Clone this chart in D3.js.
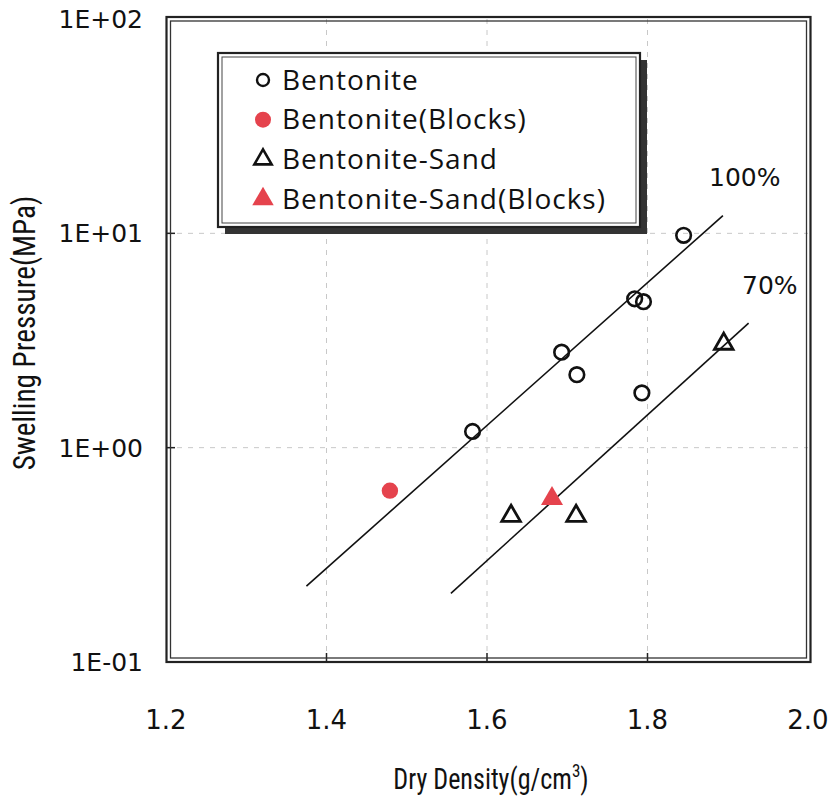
<!DOCTYPE html>
<html>
<head>
<meta charset="utf-8">
<script src="https://cdn.jsdelivr.net/npm/d3@7/dist/d3.min.js"></script>
<style>
  body { margin: 0; background: #fff; }
  .tick-label { font-family: "DejaVu Sans", sans-serif; fill: #111; }
  .title { font-family: "Liberation Sans Narrow", "Roboto Condensed", sans-serif; fill: #111; }
  .legend-text { font-family: "Open Sans", Lato, sans-serif; fill: #111; }
  .grid { stroke: #c8c8c8; stroke-width: 1; stroke-dasharray: 5,6; }
</style>
</head>
<body>
<svg id="chart"></svg>
<script>
// tick values and labels
var xTicks = [1.2, 1.4, 1.6, 1.8, 2.0];
var xTickLabels = ["1.2", "1.4", "1.6", "1.8", "2.0"];
var yTicks = [0.1, 1, 10, 100];
var yTickLabels = ["1E-01", "1E+00", "1E+01", "1E+02"];

// Bentonite (open circles)
var bentoniteX = [1.582, 1.693, 1.712, 1.784, 1.795, 1.793, 1.845];
var bentoniteY = [1.19, 2.79, 2.19, 4.95, 4.80, 1.80, 9.79];
// Bentonite(Blocks) (red circles)
var blocksX = [1.479];
var blocksY = [0.63];
// Bentonite-Sand (open triangles)
var sandX = [1.630, 1.711, 1.895];
var sandY = [0.48, 0.48, 3.05];
// Bentonite-Sand(Blocks) (red triangles)
var sandBlocksX = [1.681];
var sandBlocksY = [0.578];

// reference lines
var line100X = [1.375, 1.894];
var line100Y = [0.226, 12.1];
var line70X = [1.555, 1.926];
var line70Y = [0.209, 3.81];

var legendNames = ["Bentonite", "Bentonite(Blocks)", "Bentonite-Sand", "Bentonite-Sand(Blocks)"];

var W = 834, H = 801;
var red = "#e5434d";

var svg = d3.select("#chart").attr("width", W).attr("height", H);

var x = d3.scaleLinear().domain([1.2, 2.0]).range([166, 808]);
var y = d3.scaleLog().domain([0.1, 100]).range([662, 19]);

function zip(xs, ys) { return xs.map(function(v, i) { return {x: v, y: ys[i]}; }); }

// gridlines
svg.append("g").selectAll("line")
  .data(xTicks.slice(1, -1))
  .enter().append("line")
    .attr("class", "grid")
    .attr("x1", function(d) { return x(d); })
    .attr("x2", function(d) { return x(d); })
    .attr("y1", y(100)).attr("y2", y(0.1));
svg.append("g").selectAll("line")
  .data(yTicks.slice(1, -1))
  .enter().append("line")
    .attr("class", "grid")
    .attr("y1", function(d) { return y(d); })
    .attr("y2", function(d) { return y(d); })
    .attr("x1", x(1.2)).attr("x2", x(2.0));

// inner ticks
svg.append("g").selectAll("line")
  .data(xTicks.slice(1, -1))
  .enter().append("line")
    .attr("x1", function(d) { return x(d); })
    .attr("x2", function(d) { return x(d); })
    .attr("y1", y(0.1)).attr("y2", y(0.1) - 9)
    .attr("stroke", "#222").attr("stroke-width", 1.5);
svg.append("g").selectAll("line")
  .data(yTicks.slice(1, -1))
  .enter().append("line")
    .attr("y1", function(d) { return y(d); })
    .attr("y2", function(d) { return y(d); })
    .attr("x1", x(1.2)).attr("x2", x(1.2) + 9)
    .attr("stroke", "#222").attr("stroke-width", 1.5);

// frame (double line)
svg.append("rect")
  .attr("x", x(1.2) + 0.5).attr("y", y(100) - 2)
  .attr("width", x(2.0) - x(1.2) + 2).attr("height", y(0.1) - y(100) + 2)
  .attr("fill", "none").attr("stroke", "#222").attr("stroke-width", 2.2);
svg.append("rect")
  .attr("x", x(1.2) + 4.5).attr("y", y(100) + 2)
  .attr("width", x(2.0) - x(1.2) - 6).attr("height", y(0.1) - y(100) - 6)
  .attr("fill", "none").attr("stroke", "#333").attr("stroke-width", 1.3);

// tick labels
svg.append("g").selectAll("text")
  .data(xTicks)
  .enter().append("text")
    .attr("class", "tick-label")
    .attr("x", function(d) { return x(d); })
    .attr("y", 729)
    .attr("text-anchor", "middle")
    .attr("font-size", 26)
    .text(function(d, i) { return xTickLabels[i]; });
svg.append("g").selectAll("text")
  .data(yTicks)
  .enter().append("text")
    .attr("class", "tick-label")
    .attr("x", 143)
    .attr("y", function(d) { return y(d) + 9; })
    .attr("text-anchor", "end")
    .attr("font-size", 25)
    .text(function(d, i) { return yTickLabels[i]; });

// axis titles (condensed look)
var xt = svg.append("text")
  .attr("class", "title")
  .attr("transform", "translate(491,789) scale(0.9,1)")
  .attr("text-anchor", "middle")
  .attr("font-size", 29);
xt.append("tspan").text("Dry Density(g/cm");
xt.append("tspan").attr("dy", -12).attr("font-size", 19).text("3");
xt.append("tspan").attr("dy", 12).text(")");

svg.append("text")
  .attr("class", "title")
  .attr("transform", "translate(35,333) rotate(-90) scale(0.94,1)")
  .attr("text-anchor", "middle")
  .attr("font-size", 31)
  .text("Swelling Pressure(MPa)");

// reference lines
var line = d3.line()
  .x(function(d) { return x(d.x); })
  .y(function(d) { return y(d.y); });
svg.append("path").datum(zip(line100X, line100Y))
  .attr("d", line).attr("fill", "none").attr("stroke", "#111").attr("stroke-width", 1.6);
svg.append("path").datum(zip(line70X, line70Y))
  .attr("d", line).attr("fill", "none").attr("stroke", "#111").attr("stroke-width", 1.6);

svg.append("text").attr("class", "tick-label").attr("font-size", 25)
  .attr("x", 709).attr("y", 186).text("100%");
svg.append("text").attr("class", "tick-label").attr("font-size", 25)
  .attr("x", 742).attr("y", 294).text("70%");

// points
var pts = svg.append("g");
pts.selectAll(".bent")
  .data(zip(bentoniteX, bentoniteY))
  .enter().append("circle")
    .attr("cx", function(d) { return x(d.x); })
    .attr("cy", function(d) { return y(d.y); })
    .attr("r", 7.3)
    .attr("fill", "none").attr("stroke", "#111").attr("stroke-width", 2.6);
pts.selectAll(".blocks")
  .data(zip(blocksX, blocksY))
  .enter().append("circle")
    .attr("cx", function(d) { return x(d.x); })
    .attr("cy", function(d) { return y(d.y); })
    .attr("r", 8.2)
    .attr("fill", red);
var tri = d3.symbol().type(d3.symbolTriangle);
pts.selectAll(".sand")
  .data(zip(sandX, sandY))
  .enter().append("path")
    .attr("d", tri.size(150)())
    .attr("transform", function(d) { return "translate(" + x(d.x) + "," + y(d.y) + ")"; })
    .attr("fill", "none").attr("stroke", "#111").attr("stroke-width", 2.8).attr("stroke-linejoin", "miter");
pts.selectAll(".sandb")
  .data(zip(sandBlocksX, sandBlocksY))
  .enter().append("path")
    .attr("d", d3.symbol().type(d3.symbolTriangle).size(210)())
    .attr("transform", function(d) { return "translate(" + x(d.x) + "," + y(d.y) + ")"; })
    .attr("fill", red);

// legend box with shadow
var lg = svg.append("g");
lg.append("rect").attr("x", 225).attr("y", 60).attr("width", 422).attr("height", 174).attr("fill", "#333");
lg.append("rect").attr("x", 218).attr("y", 53).attr("width", 422).attr("height", 174)
  .attr("fill", "#fff").attr("stroke", "#222").attr("stroke-width", 2.2);
lg.append("rect").attr("x", 222).attr("y", 57).attr("width", 414).attr("height", 166)
  .attr("fill", "none").attr("stroke", "#444").attr("stroke-width", 1);

var rows = lg.selectAll(".row")
  .data(legendNames)
  .enter().append("g")
    .attr("transform", function(d, i) { return "translate(263," + (80 + i * 39.7) + ")"; });
rows.append("text")
  .attr("class", "legend-text")
  .attr("x", 19).attr("y", 9.5)
  .attr("font-size", 28)
  .attr("letter-spacing", 1.0)
  .text(function(d) { return d; });
rows.each(function(d, i) {
  var g = d3.select(this);
  if (i === 0) g.append("circle").attr("r", 6).attr("fill", "none").attr("stroke", "#111").attr("stroke-width", 2.4);
  if (i === 1) g.append("circle").attr("r", 8).attr("fill", red);
  if (i === 2) g.append("path").attr("d", d3.symbol().type(d3.symbolTriangle).size(130)())
    .attr("fill", "none").attr("stroke", "#111").attr("stroke-width", 2.6);
  if (i === 3) g.append("path").attr("d", d3.symbol().type(d3.symbolTriangle).size(200)()).attr("fill", red);
});
</script>
</body>
</html>
